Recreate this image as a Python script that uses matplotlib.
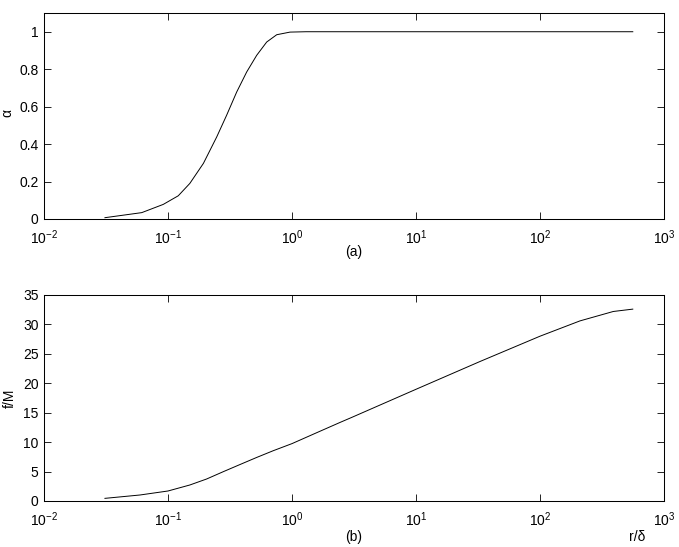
import numpy as np
import matplotlib.pyplot as plt

plt.rcParams['font.family'] = ['Liberation Sans', 'DejaVu Sans']
plt.rcParams['mathtext.default'] = 'regular'
plt.rcParams['font.size'] = 10

# panel (a): alpha vs r/delta
r_a = [0.031, 0.0614, 0.0916, 0.121, 0.150, 0.193, 0.247, 0.297, 0.358,
       0.431, 0.519, 0.625, 0.753, 0.964, 1.3, 10, 100, 560]
alpha = [0.007, 0.034, 0.078, 0.124, 0.19, 0.297, 0.438, 0.554, 0.678,
         0.785, 0.874, 0.945, 0.984, 0.998, 1.0, 1.0, 1.0, 1.0]

# panel (b): f/M vs r/delta
r_b = [0.031, 0.0594, 0.1, 0.150, 0.205, 0.279, 0.381, 0.519, 0.707, 1.0,
       1.58, 2.44, 3.03, 10, 32.8, 100, 210, 390, 560]
fM = [0.45, 1.02, 1.70, 2.72, 3.74, 4.98, 6.2, 7.4, 8.55, 9.75,
      11.6, 13.35, 14.2, 18.98, 23.7, 28.0, 30.6, 32.2, 32.6]

fig = plt.figure(figsize=(6.79, 5.47), dpi=100)
W, H = 679, 547
ax1 = fig.add_axes([44 / W, 1 - 219 / H, 620 / W, 206 / H])
ax2 = fig.add_axes([44 / W, 1 - 501 / H, 620 / W, 206 / H])

ax1.plot(r_a, alpha, color='k', linewidth=0.7)
ax2.plot(r_b, fM, color='k', linewidth=0.7)

for ax in (ax1, ax2):
    ax.set_xscale('log')
    ax.set_xlim(1e-2, 1e3)
    ax.set_xticks([1e-2, 1e-1, 1e0, 1e1, 1e2, 1e3])
    ax.minorticks_off()
    ax.tick_params(direction='in', top=True, right=True, length=5, width=0.6)
    ax.tick_params(axis='x', pad=7)
    ax.tick_params(axis='y', pad=4)
    for s in ax.spines.values():
        s.set_linewidth(0.75)

ax1.set_ylim(0, 1.1)
ax1.set_yticks([0, 0.2, 0.4, 0.6, 0.8, 1])
ax1.set_yticklabels(['0', '0.2', '0.4', '0.6', '0.8', '1'])

ax2.set_ylim(0, 35)
ax2.set_yticks(range(0, 36, 5))

def ftext(x, y, s, rot=0):
    fig.text(x / W, 1 - y / H, s, ha='center', va='center', rotation=rot)

ftext(7, 113, 'α', 90)
ftext(10, 398, 'f/M', 90)
ftext(354, 252, '(a)')
ftext(354, 537, '(b)')
ftext(637, 537, 'r/δ')

fig.savefig('out.png', dpi=100)
